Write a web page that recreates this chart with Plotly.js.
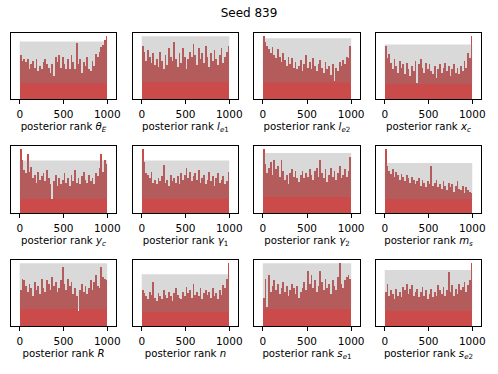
<!DOCTYPE html>
<html>
<head>
<meta charset="utf-8">
<script src="https://cdn.plot.ly/plotly-3.0.1.min.js"></script>
<style>
  html, body { margin: 0; padding: 0; background: #fff; }
  #plot { width: 498px; height: 374px; }
</style>
</head>
<body>
<div id="plot"></div>
<script>
// rank histogram, 50 bins over 0..1000
var nBins = 50;
var rankMax = 1000;

// binomial band (lower / upper count per bin)
var bandLow = 9;
var bandHigh = 33;

var labels = [
  'posterior rank <i>θ<sub>E</sub></i>',
  'posterior rank <i>l<sub>e</sub></i><sub>1</sub>',
  'posterior rank <i>l<sub>e</sub></i><sub>2</sub>',
  'posterior rank <i>x<sub>c</sub></i>',
  'posterior rank <i>y<sub>c</sub></i>',
  'posterior rank <i>γ</i><sub>1</sub>',
  'posterior rank <i>γ</i><sub>2</sub>',
  'posterior rank <i>m<sub>s</sub></i>',
  'posterior rank <i>R</i>',
  'posterior rank <i>n</i>',
  'posterior rank <i>s<sub>e</sub></i><sub>1</sub>',
  'posterior rank <i>s<sub>e</sub></i><sub>2</sub>'
];

var counts_thetaE = [25, 22, 23, 21, 23, 17, 20, 22, 18, 23, 16, 19, 17, 21, 23, 20, 18, 15, 20, 13, 24, 21, 25, 18, 24, 20, 17, 23, 17, 25, 21, 17, 32, 20, 23, 15, 21, 19, 24, 17, 16, 22, 19, 26, 24, 27, 30, 31, 34, 36];
var counts_le1 = [28, 25, 20, 26, 22, 19, 24, 18, 21, 17, 25, 20, 16, 23, 18, 27, 22, 20, 30, 21, 17, 24, 19, 27, 22, 16, 21, 25, 22, 29, 23, 18, 27, 21, 24, 19, 28, 22, 17, 24, 20, 26, 21, 18, 23, 27, 19, 22, 25, 28];
var counts_le2 = [34, 31, 29, 27, 25, 28, 24, 22, 27, 23, 20, 25, 21, 18, 23, 19, 22, 17, 20, 16, 18, 21, 15, 19, 24, 17, 20, 16, 22, 18, 15, 19, 21, 17, 14, 20, 16, 18, 13, 19, 10, 17, 15, 20, 18, 21, 19, 23, 22, 29];
var counts_xc = [32, 25, 27, 22, 18, 24, 20, 16, 23, 19, 21, 15, 22, 18, 14, 20, 17, 23, 10, 21, 24, 19, 16, 22, 18, 21, 17, 15, 20, 13, 18, 21, 16, 19, 22, 17, 20, 14, 18, 21, 16, 19, 15, 20, 17, 23, 19, 28, 25, 38];
var counts_yc = [40, 33, 27, 25, 37, 26, 29, 22, 24, 19, 26, 21, 23, 25, 20, 27, 22, 18, 9, 20, 24, 17, 22, 18, 21, 25, 19, 22, 17, 24, 20, 27, 19, 22, 18, 23, 26, 21, 19, 24, 20, 22, 18, 25, 23, 28, 37, 26, 33, 31];
var counts_g1 = [40, 32, 25, 24, 22, 26, 19, 21, 18, 22, 20, 23, 30, 19, 21, 17, 24, 20, 22, 19, 23, 18, 25, 21, 24, 28, 22, 26, 20, 23, 25, 21, 27, 19, 22, 24, 18, 21, 26, 20, 23, 17, 22, 25, 19, 21, 23, 18, 20, 26];
var counts_g2 = [35, 27, 22, 25, 28, 21, 29, 24, 26, 20, 29, 23, 18, 21, 16, 22, 24, 20, 23, 19, 17, 21, 23, 19, 22, 20, 24, 21, 18, 23, 25, 20, 29, 22, 19, 24, 17, 21, 25, 20, 23, 18, 22, 26, 19, 21, 24, 20, 23, 31];
var counts_ms = [42, 31, 28, 26, 29, 24, 27, 25, 22, 26, 24, 21, 25, 23, 20, 24, 22, 19, 21, 23, 18, 22, 20, 17, 21, 19, 31, 18, 20, 22, 17, 19, 16, 21, 18, 15, 20, 17, 19, 14, 18, 21, 16, 15, 18, 13, 17, 15, 14, 13];
var counts_R = [19, 25, 24, 21, 18, 22, 20, 16, 23, 19, 21, 17, 25, 20, 18, 24, 22, 19, 26, 21, 23, 18, 20, 24, 31, 22, 19, 25, 21, 23, 17, 20, 16, 8, 19, 22, 18, 21, 17, 20, 24, 19, 23, 27, 21, 20, 31, 26, 25, 24];
var counts_n = [23, 21, 19, 17, 22, 20, 28, 18, 16, 21, 19, 17, 23, 20, 18, 22, 19, 16, 21, 24, 20, 18, 17, 22, 19, 25, 21, 23, 18, 27, 20, 22, 19, 24, 17, 21, 23, 20, 22, 18, 24, 19, 21, 17, 23, 20, 26, 24, 30, 40];
var counts_se1 = [15, 25, 10, 27, 18, 21, 24, 19, 22, 17, 20, 23, 18, 21, 16, 19, 22, 20, 17, 21, 15, 18, 20, 23, 19, 29, 22, 27, 20, 24, 18, 21, 29, 23, 19, 25, 20, 22, 17, 24, 21, 19, 26, 33, 22, 20, 24, 26, 27, 25];
var counts_se2 = [20, 25, 18, 21, 19, 16, 22, 18, 20, 17, 23, 21, 25, 19, 22, 24, 18, 20, 22, 17, 20, 23, 18, 21, 16, 19, 22, 17, 20, 18, 24, 21, 19, 23, 18, 21, 32, 20, 24, 18, 22, 19, 25, 21, 23, 26, 20, 24, 27, 37];

var allCounts = [counts_thetaE, counts_le1, counts_le2, counts_xc,
                 counts_yc, counts_g1, counts_g2, counts_ms,
                 counts_R, counts_n, counts_se1, counts_se2];

var binW = rankMax / nBins;
var centers = [];
for (var b = 0; b < nBins; b++) centers.push(b * binW + binW / 2);

// pixel boxes of the 3x4 grid, turned into paper domains
var W = 498, H = 374;
var colPx = [[11, 116], [133, 238], [254, 360], [376, 481]];
var rowPx = [[33, 99], [146, 213], [260, 326]];

var data = [];
var layout = {
  width: W, height: H,
  margin: {l: 0, r: 0, t: 0, b: 0},
  paper_bgcolor: 'white',
  plot_bgcolor: 'white',
  showlegend: false,
  bargap: 0,
  font: {family: 'DejaVu Sans', size: 10, color: 'black'},
  title: {text: 'Seed 839', font: {family: 'DejaVu Sans', size: 12, color: 'black'},
          x: 0.5, xanchor: 'center', y: 1 - 13 / H, yanchor: 'middle'}
};

for (var i = 0; i < 12; i++) {
  var r = Math.floor(i / 4), c = i % 4;
  var k = i + 1;
  var xa = 'x' + (k === 1 ? '' : k), ya = 'y' + (k === 1 ? '' : k);
  var counts = allCounts[i];
  var top = Math.max(Math.max.apply(null, counts), bandHigh) * 1.05;

  data.push({
    type: 'bar', x: centers, y: counts, width: binW,
    marker: {color: 'rgba(190,30,30,0.8)', line: {width: 0}},
    xaxis: xa, yaxis: ya, hoverinfo: 'skip'
  });
  data.push({
    type: 'scatter', mode: 'lines', fill: 'toself',
    x: [0, rankMax, rankMax, 0, 0],
    y: [bandLow, bandLow, bandHigh, bandHigh, bandLow],
    line: {width: 0, color: 'rgba(0,0,0,0)'},
    fillcolor: 'rgba(128,128,128,0.3)',
    xaxis: xa, yaxis: ya, hoverinfo: 'skip'
  });

  layout['xaxis' + (k === 1 ? '' : k)] = {
    domain: [colPx[c][0] / W, colPx[c][1] / W],
    anchor: ya,
    range: [-100, 1100],
    tickvals: [0, 500, 1000],
    ticks: 'outside', ticklen: 3.5, tickwidth: 1, tickcolor: 'black',
    ticklabelstandoff: 2,
    showgrid: false, zeroline: false,
    showline: true, mirror: true, linecolor: 'black', linewidth: 1,
    tickfont: {size: 10.5},
    title: {text: labels[i], font: {size: 10.2}, standoff: 3}
  };
  layout['yaxis' + (k === 1 ? '' : k)] = {
    domain: [1 - rowPx[r][1] / H, 1 - rowPx[r][0] / H],
    anchor: xa,
    range: [0, top],
    showticklabels: false, ticks: '',
    showgrid: false, zeroline: false,
    showline: true, mirror: true, linecolor: 'black', linewidth: 1
  };
}

Plotly.newPlot('plot', data, layout, {staticPlot: true});
</script>
</body>
</html>
